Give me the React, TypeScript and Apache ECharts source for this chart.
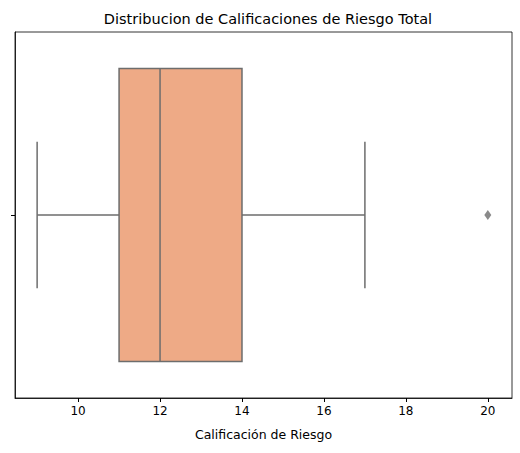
import React, { useEffect, useRef } from "react";
import * as echarts from "echarts";

const categories = [""];
const whiskerLow = [9];
const q1 = [11];
const median = [12];
const q3 = [14];
const whiskerHigh = [17];
const outliers = [20];
const tickValues = [10, 12, 14, 16, 18, 20];

const LINE = "#6d6d6d";
const FILL = "#eeaa86";

export default function App() {
  const ref = useRef<HTMLDivElement>(null);
  useEffect(() => {
    const chart = echarts.init(ref.current!, null, { renderer: "svg" });
    const data = categories.map((c, i) => [i, whiskerLow[i], q1[i], median[i], q3[i], whiskerHigh[i]]);
    chart.setOption({
      animation: false,
      title: {
        text: "Distribucion de Calificaciones de Riesgo Total",
        left: 263, top: 6, textAlign: "center",
        textStyle: { fontSize: 14.5, fontWeight: "normal", color: "#000", fontFamily: "DejaVu Sans" },
      },
      grid: { left: 15, right: 8, top: 32, bottom: 55, show: true, borderColor: "#000", borderWidth: 0.8 },
      xAxis: {
        type: "value", min: 8.46, max: 20.59,
        name: "Calificación de Riesgo", nameLocation: "middle", nameGap: 30,
        nameTextStyle: { fontSize: 12.5, color: "#000", fontFamily: "DejaVu Sans" },
        splitLine: { show: false },
        axisLine: { show: true, onZero: false, lineStyle: { color: "#000", width: 0.8 } },
        axisTick: { show: true, length: 4, customValues: tickValues, lineStyle: { color: "#000" } },
        axisLabel: { customValues: tickValues, color: "#000", fontSize: 12, fontFamily: "DejaVu Sans", margin: 7 },
      },
      yAxis: {
        type: "category", data: categories, inverse: true,
        axisLine: { show: true, lineStyle: { color: "#000", width: 0.8 } },
        axisTick: { show: true, length: 4, alignWithLabel: true, lineStyle: { color: "#000" } },
        axisLabel: { show: false },
      },
      series: [
        {
          type: "custom",
          data,
          renderItem: (params: any, api: any) => {
            const y = api.value(0);
            const band = api.size([0, 1])[1];
            const half = band * 0.4;
            const capHalf = band * 0.2;
            const lo = api.coord([api.value(1), y]);
            const b1 = api.coord([api.value(2), y]);
            const md = api.coord([api.value(3), y]);
            const b3 = api.coord([api.value(4), y]);
            const hi = api.coord([api.value(5), y]);
            const cy = lo[1];
            const ls = { stroke: LINE, lineWidth: 1.5 };
            return {
              type: "group",
              children: [
                { type: "line", shape: { x1: lo[0], y1: cy, x2: b1[0], y2: cy }, style: ls },
                { type: "line", shape: { x1: b3[0], y1: cy, x2: hi[0], y2: cy }, style: ls },
                { type: "line", shape: { x1: lo[0], y1: cy - capHalf, x2: lo[0], y2: cy + capHalf }, style: ls },
                { type: "line", shape: { x1: hi[0], y1: cy - capHalf, x2: hi[0], y2: cy + capHalf }, style: ls },
                { type: "rect", shape: { x: b1[0], y: cy - half, width: b3[0] - b1[0], height: 2 * half }, style: { fill: FILL, stroke: LINE, lineWidth: 1.5 } },
                { type: "line", shape: { x1: md[0], y1: cy - half, x2: md[0], y2: cy + half }, style: ls },
              ],
            };
          },
        },
        {
          type: "scatter",
          data: outliers.map((v) => [v, 0]),
          symbol: "diamond",
          symbolSize: [7, 10],
          itemStyle: { color: LINE },
        },
      ],
    });
    return () => chart.dispose();
  }, []);
  return <div ref={ref} style={{ position: "absolute", left: 0, top: 0, width: 520, height: 453 }} />;
}
